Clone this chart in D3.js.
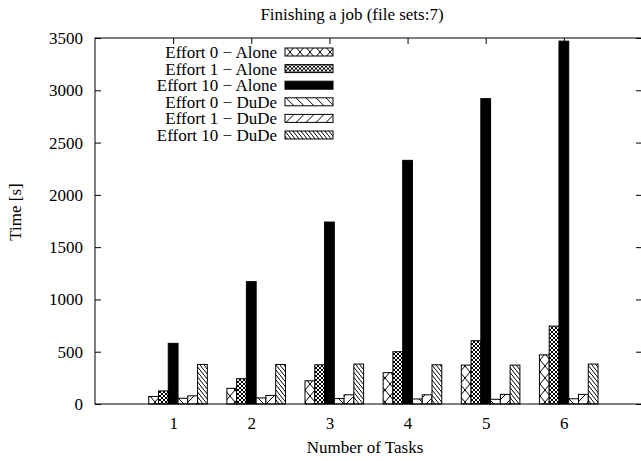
<!DOCTYPE html>
<html>
<head>
<meta charset="utf-8">
<script src="https://cdn.jsdelivr.net/npm/d3@7"></script>
<style>
  body { margin: 0; background: #fff; }
  svg { display: block; font-family: "Liberation Serif", "Times New Roman", serif; }
</style>
</head>
<body>
<svg width="641" height="461"></svg>
<script>
var tasks = [1, 2, 3, 4, 5, 6];
var seriesNames = [
  "Effort 0 \u2212 Alone", "Effort 1 \u2212 Alone", "Effort 10 \u2212 Alone",
  "Effort 0 \u2212 DuDe", "Effort 1 \u2212 DuDe", "Effort 10 \u2212 DuDe"
];
var effort0Alone = [72, 150, 222, 300, 372, 470];
var effort1Alone = [125, 242, 375, 500, 605, 745];
var effort10Alone = [580, 1170, 1740, 2330, 2920, 3470];
var effort0DuDe = [55, 58, 52, 48, 45, 50];
var effort1DuDe = [78, 82, 88, 88, 92, 92];
var effort10DuDe = [378, 378, 382, 375, 372, 382];
var yTicks = [0, 500, 1000, 1500, 2000, 2500, 3000, 3500];

var series = [effort0Alone, effort1Alone, effort10Alone, effort0DuDe, effort1DuDe, effort10DuDe];

var svg = d3.select('svg');
var fs = 17;
// plot box (note: "top" is taken by window.top, so use px* names)
var pxLeft = 95, pxRight = 642, pxTop = 38, pxBottom = 404;

var x = d3.scaleLinear().domain([0, 7]).range([pxLeft, pxRight]);
var y = d3.scaleLinear().domain([0, 3500]).range([pxBottom, pxTop]);
var bw = (x(1) - x(0)) / 8;

// hatch patterns, roughly like gnuplot's fill patterns 1..6
var defs = svg.append('defs');
function pattern(id, w, h, lines, sw) {
  var p = defs.append('pattern')
    .attr('id', id)
    .attr('patternUnits', 'userSpaceOnUse')
    .attr('width', w)
    .attr('height', h);
  p.append('rect').attr('width', w).attr('height', h).attr('fill', '#fff');
  lines.forEach(function(l) {
    p.append('line')
      .attr('x1', l[0]).attr('y1', l[1])
      .attr('x2', l[2]).attr('y2', l[3])
      .attr('stroke', '#000')
      .attr('stroke-width', sw);
  });
}
pattern('p0', 10, 12, [[0, 0, 10, 12], [10, 0, 0, 12]], 1);
pattern('p1', 4, 4, [[0, 0, 4, 4], [4, 0, 0, 4]], 1);
pattern('p3', 10, 10, [[0, 0, 10, 10]], 1);
pattern('p4', 10, 10, [[0, 10, 10, 0]], 1);
pattern('p5', 4, 5, [[0, 0, 4, 5]], 1);
var fills = ['url(#p0)', 'url(#p1)', '#000', 'url(#p3)', 'url(#p4)', 'url(#p5)'];

// bars
series.forEach(function(vals, i) {
  svg.append('g')
    .selectAll('rect').data(vals)
    .enter().append('rect')
    .attr('x', function(d, j) { return x(tasks[j]) + (i - 2.5) * bw; })
    .attr('y', function(d) { return y(d); })
    .attr('width', bw)
    .attr('height', function(d) { return pxBottom - y(d); })
    .attr('fill', fills[i])
    .attr('stroke', '#000')
    .attr('stroke-width', 1);
});

// axes, ticks pointing inwards
svg.append('g')
  .attr('transform', 'translate(' + pxLeft + ',0)')
  .call(d3.axisLeft(y).tickValues(yTicks).tickSize(-6).tickPadding(12).tickFormat(d3.format('d')));
svg.append('g')
  .attr('transform', 'translate(' + pxRight + ',0)')
  .call(d3.axisRight(y).tickValues(yTicks).tickSize(-6).tickFormat(''));
svg.append('g')
  .attr('transform', 'translate(0,' + pxBottom + ')')
  .call(d3.axisBottom(x).tickValues(tasks).tickSize(-6).tickPadding(13).tickFormat(d3.format('d')));
svg.append('g')
  .attr('transform', 'translate(0,' + pxTop + ')')
  .call(d3.axisTop(x).tickValues(tasks).tickSize(-6).tickFormat(''));

svg.selectAll('.domain').remove();
svg.selectAll('.tick line').attr('stroke', '#000');
svg.selectAll('.tick text')
  .attr('font-family', '"Liberation Serif", serif')
  .attr('font-size', fs)
  .attr('fill', '#000');

svg.append('rect')
  .attr('x', pxLeft)
  .attr('y', pxTop)
  .attr('width', pxRight - pxLeft)
  .attr('height', pxBottom - pxTop)
  .attr('fill', 'none')
  .attr('stroke', '#000')
  .attr('stroke-width', 1);

// legend
var legend = svg.append('g')
  .selectAll('g').data(seriesNames)
  .enter().append('g')
  .attr('transform', function(d, i) { return 'translate(0,' + (52 + i * 16.6) + ')'; });
legend.append('text')
  .attr('x', 277)
  .attr('y', 6)
  .attr('text-anchor', 'end')
  .attr('font-size', fs)
  .text(function(d) { return d; });
legend.append('rect')
  .attr('x', 285)
  .attr('y', -4)
  .attr('width', 48)
  .attr('height', 8)
  .attr('fill', function(d, i) { return fills[i]; })
  .attr('stroke', '#000');

// titles
svg.append('text')
  .attr('x', 352)
  .attr('y', 20)
  .attr('text-anchor', 'middle')
  .attr('font-size', fs)
  .text('Finishing a job (file sets:7)');
svg.append('text')
  .attr('x', 365)
  .attr('y', 453)
  .attr('text-anchor', 'middle')
  .attr('font-size', fs)
  .text('Number of Tasks');
svg.append('text')
  .attr('transform', 'translate(21,212) rotate(-90)')
  .attr('text-anchor', 'middle')
  .attr('font-size', fs)
  .text('Time [s]');
</script>
</body>
</html>
